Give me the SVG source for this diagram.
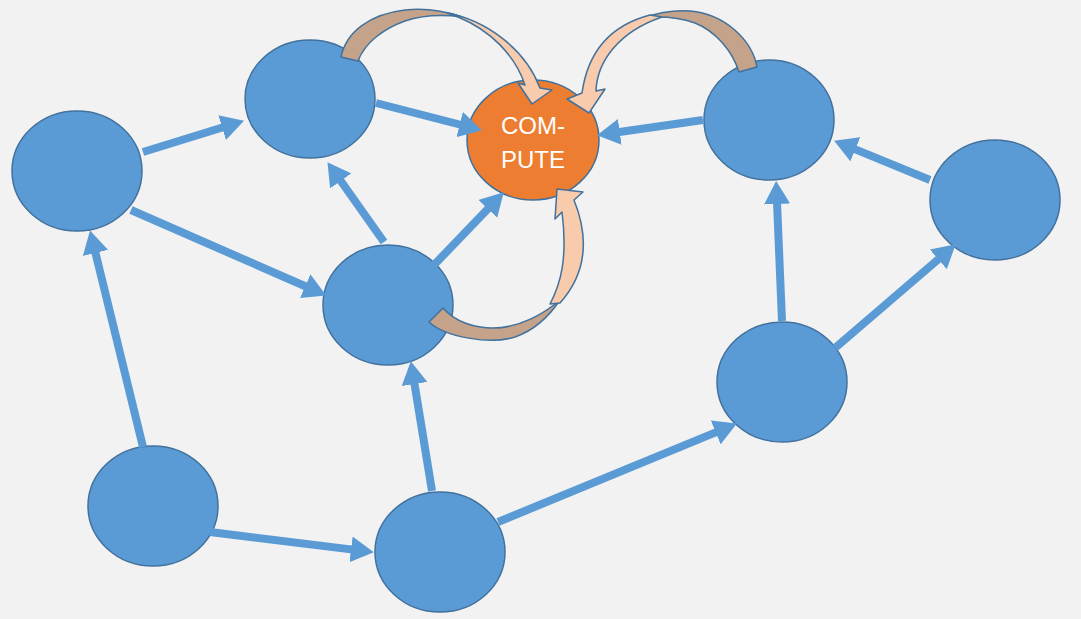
<svg xmlns="http://www.w3.org/2000/svg" width="1081" height="619" viewBox="0 0 1081 619">
<style>
.node{fill:#5B9BD5;stroke:#41719C;stroke-width:1.5}
.comp{fill:#ED7D31;stroke:#41719C;stroke-width:1.5}
.edge{stroke:#5B9BD5;stroke-width:8;fill:none;marker-end:url(#ah)}
.back{fill:#C5A38A;stroke:#41719C;stroke-width:1.5;stroke-linejoin:round}
.front{fill:#F8CBAD;stroke:#41719C;stroke-width:1.5;stroke-linejoin:round}
.lbl{font-family:"Liberation Sans","Open Sans",sans-serif;font-size:24px;fill:#FFFFFF;text-anchor:middle}
</style>
<defs>
<marker id="ah" markerUnits="userSpaceOnUse" markerWidth="23" markerHeight="26" refX="2" refY="13" orient="auto" viewBox="0 0 23 26">
<path d="M0,0 L23,13 L0,26 Z" fill="#5B9BD5"/>
</marker>
</defs>
<rect width="1081" height="619" fill="#F2F2F2"/>
<g id="n1"><ellipse class="node" cx="77" cy="171" rx="65" ry="60"/></g>
<g id="n2"><ellipse class="node" cx="310" cy="99" rx="65" ry="59"/></g>
<g id="n3"><ellipse class="node" cx="388" cy="305" rx="65" ry="60"/></g>
<g id="n4"><ellipse class="node" cx="153" cy="506" rx="65" ry="60"/></g>
<g id="n5"><ellipse class="node" cx="440" cy="552" rx="65" ry="60"/></g>
<g id="n6"><ellipse class="node" cx="782" cy="382" rx="65" ry="60"/></g>
<g id="n7"><ellipse class="node" cx="769" cy="120" rx="65" ry="60"/></g>
<g id="n8"><ellipse class="node" cx="995" cy="200" rx="65" ry="60"/></g>
<g id="compute"><ellipse class="comp" cx="533" cy="140" rx="66" ry="60"/>
<text class="lbl" x="533" y="134">COM-</text>
<text class="lbl" x="533" y="168">PUTE</text></g>
<g id="connectors">
<line class="edge" x1="143" y1="152" x2="224" y2="127"/>
<line class="edge" x1="131" y1="210" x2="307" y2="287"/>
<line class="edge" x1="143" y1="447" x2="95" y2="251"/>
<line class="edge" x1="210" y1="532" x2="353" y2="549.6"/>
<line class="edge" x1="432" y1="491" x2="414.2" y2="382"/>
<line class="edge" x1="498" y1="522" x2="717.5" y2="431.6"/>
<line class="edge" x1="384" y1="242" x2="339.6" y2="179.3"/>
<line class="edge" x1="434" y1="265" x2="489.2" y2="207.4"/>
<line class="edge" x1="376" y1="103" x2="461.6" y2="125"/>
<line class="edge" x1="703" y1="120" x2="617.8" y2="132.2"/>
<line class="edge" x1="782" y1="321" x2="777" y2="202"/>
<line class="edge" x1="835" y1="348" x2="939.8" y2="258"/>
<line class="edge" x1="930" y1="180" x2="853.5" y2="148.6"/>
<path class="back" d="M341,57 C346,32 370,14 405,10 C425,8 445,11 462,17 C440,14 420,16 405,21 C385,28 365,42 358,61 Z"/>
<path class="front" d="M447,13 C485,20 525,48 540,88 L552,90 L532,104 L518,83 L525,85 C515,55 490,30 458,17 Z"/>
<path class="back" d="M757,67 C752,40 725,14 690,11 C675,10 660,12 643,18 C660,16 680,18 695,23 C715,31 732,50 739,72 Z"/>
<path class="front" d="M650,15 C612,25 588,50 582,93 L567,99 L589,113 L605,89 L596,91 C597,62 618,32 662,17 Z"/>
<path class="back" d="M429,322 C445,337 490,345 515,337 C535,330 550,315 560,300 C545,313 520,328 493,328 C475,328 455,322 443,308 Z"/>
<path class="front" d="M550,304 C560,285 568,260 562,212 L555,219 L557,189 L583,192 L574,200 C590,240 585,275 560,303 Z"/>
</g>
</svg>
